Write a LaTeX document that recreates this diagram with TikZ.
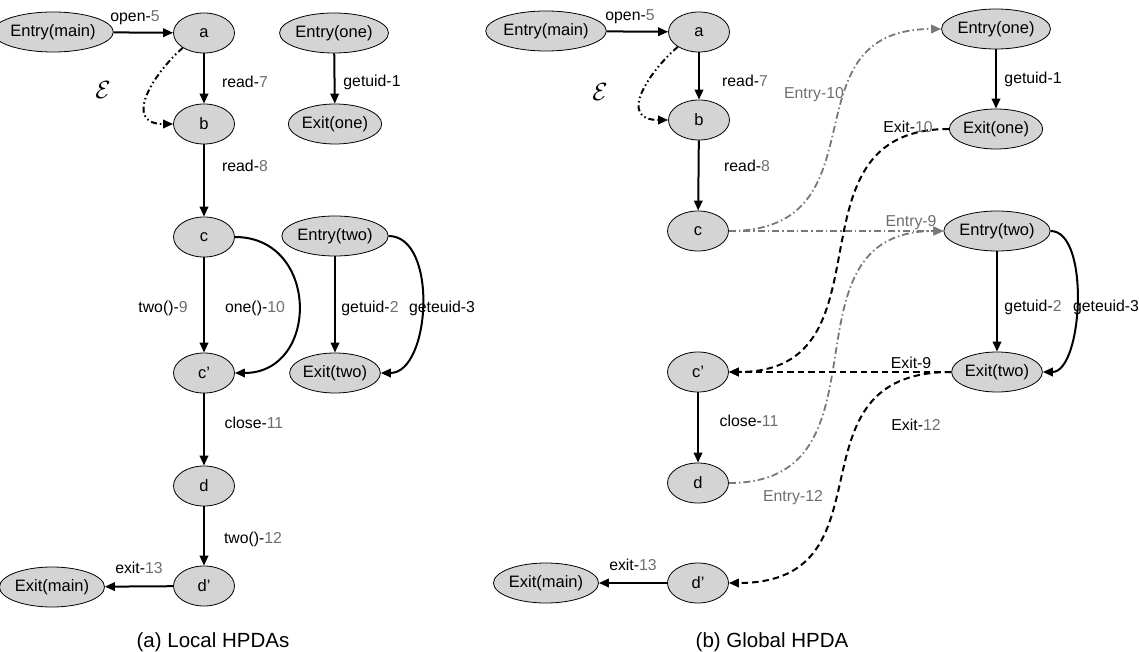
\documentclass[tikz,border=0pt]{standalone}
\usepackage{fontspec}
\setmainfont{Liberation Sans}
\usetikzlibrary{arrows.meta,shapes.geometric}
\definecolor{nodefill}{HTML}{D4D4D4}
\definecolor{numgray}{HTML}{6E6E6E}
\definecolor{linkgray}{HTML}{787878}
\newcommand{\nm}[1]{\textcolor{numgray}{#1}}
\begin{document}
\begin{tikzpicture}[x=1pt,y=-1pt,
  st/.style={ellipse, draw=black, line width=0.8pt, fill=nodefill,
    minimum width=61pt, minimum height=40pt, inner sep=0pt,
    font=\fontsize{16.5}{19}\selectfont},
  wide/.style={st, minimum width=82pt},
  lbl/.style={font=\fontsize{15.8}{18}\selectfont, inner sep=0pt, text=black},
  glbl/.style={lbl, text=numgray},
  captext/.style={font=\fontsize{20.5}{23}\selectfont, inner sep=0pt},
  epsl/.style={font=\fontsize{23}{26}\selectfont, inner sep=0pt},
  tip/.style={-{Triangle[length=10pt,width=8.5pt]}},
  flow/.style={tip, line width=2pt},
  ret/.style={tip, line width=2pt, dash pattern=on 6.5pt off 4pt},
  call/.style={tip, line width=1.8pt, draw=linkgray, dash pattern=on 7pt off 3pt on 1.5pt off 3pt},
  epsedge/.style={tip, line width=2pt, dash pattern=on 6pt off 3pt on 1.5pt off 3pt on 1.5pt off 3pt}]
\useasboundingbox (0,0) rectangle (1139,652);

% ---------- (a) local HPDAs ----------
\node[wide, minimum width=86pt] (em) at (53,32) {Entry(main)};
\node[st] (a) at (204,33) {a};
\node[st] (b) at (204,124) {b};
\node[st] (c) at (204,237) {c};
\node[st] (cp) at (204,373) {c’};
\node[st] (d) at (204,486) {d};
\node[st] (dp) at (204,586) {d’};
\node[wide, minimum width=86pt] (xm) at (52,587) {Exit(main)};
\node[wide] (e1) at (334,33) {Entry(one)};
\node[wide] (x1) at (335,124) {Exit(one)};
\node[wide] (e2) at (335,236) {Entry(two)};
\node[wide] (x2) at (335,373) {Exit(two)};

\draw[flow] (em) -- (a);
\draw[flow] (a) -- (b);
\draw[flow] (b) -- (c);
\draw[flow] (c) -- (cp);
\draw[flow] (cp) -- (d);
\draw[flow] (d) -- (dp);
\draw[flow] (dp) -- (xm);
\draw[flow] (e1) -- (x1);
\draw[flow] (e2) -- (x2);
\draw[flow] (c.east) .. controls +(85,0) and +(85,0) .. (cp.east);
\draw[flow] (e2.east) .. controls +(50,0) and +(50,0) .. (x2.east);
\draw[epsedge] (a.215) .. controls +(-28,24) and +(-52,0) .. (b.west);

\node[lbl] (la1) at (135,18) {open-\nm{5}};
\node[epsl] (la2) at (103,90) {$\mathcal{E}$};
\node[lbl] (la3) at (245,82) {read-\nm{7}};
\node[lbl] (la4) at (372,82) {getuid-1};
\node[lbl] (la5) at (245,166) {read-\nm{8}};
\node[lbl] (la6) at (163,308) {two()-\nm{9}};
\node[lbl] (la7) at (255,308) {one()-\nm{10}};
\node[lbl] (la8) at (370,308) {getuid-\nm{2}};
\node[lbl] (la9) at (442,308) {geteuid-3};
\node[lbl] (la10) at (254,423) {close-\nm{11}};
\node[lbl] (la11) at (253,539) {two()-\nm{12}};
\node[lbl] (la12) at (139,568) {exit-\nm{13}};
\node[captext] (capa) at (213,642) {(a) Local HPDAs};

% ---------- (b) global HPDA ----------
\node[wide, minimum width=86pt] (gem) at (546,31) {Entry(main)};
\node[st] (ga) at (699,32) {a};
\node[st] (gb) at (699,120) {b};
\node[st] (gc) at (698,231) {c};
\node[st] (gcp) at (698,372) {c’};
\node[st] (gd) at (698,483) {d};
\node[st] (gdp) at (698,583) {d’};
\node[wide, minimum width=86pt] (gxm) at (546,583) {Exit(main)};
\node[wide] (ge1) at (996,29) {Entry(one)};
\node[wide] (gx1) at (996,129) {Exit(one)};
\node[wide] (ge2) at (997,231) {Entry(two)};
\node[wide] (gx2) at (997,372) {Exit(two)};

\draw[flow] (gem) -- (ga);
\draw[flow] (ga) -- (gb);
\draw[flow] (gb) -- (gc);
\draw[flow] (gcp) -- (gd);
\draw[flow] (gdp) -- (gxm);
\draw[flow] (ge1) -- (gx1);
\draw[flow] (ge2) -- (gx2);
\draw[flow] (ge2.east) .. controls +(40,0) and +(40,0) .. (gx2.east);
\draw[epsedge] (ga.215) .. controls +(-28,24) and +(-52,0) .. (gb.west);

% calls into the procedures
\draw[call] (gc.east) .. controls +(160,0) and +(-160,0) .. (ge1.west);
\draw[call] (gc.east) -- (ge2.west);
\draw[call] (gd.east) .. controls +(170,0) and +(-170,0) .. (ge2.west);
% returns from the procedures
\draw[ret] (gx1.west) .. controls +(-170,0) and +(170,0) .. (gcp.east);
\draw[ret] (gx2.west) -- (gcp.east);
\draw[ret] (gx2.west) .. controls +(-170,0) and +(170,0) .. (gdp.east);

\node[lbl] (lb1) at (630,17) {open-\nm{5}};
\node[epsl] (lb2) at (600,92) {$\mathcal{E}$};
\node[lbl] (lb3) at (745,81) {read-\nm{7}};
\node[glbl] (lb4) at (814,95) {Entry-10};
\node[lbl] (lb5) at (1033,79) {getuid-1};
\node[lbl] (lb6) at (747,166) {read-\nm{8}};
\node[lbl] (lb7) at (908,127) {Exit-\nm{10}};
\node[glbl] (lb8) at (911,223) {Entry-9};
\node[lbl] (lb9) at (1033,307) {getuid-\nm{2}};
\node[lbl] (lb10) at (1106,307) {geteuid-3};
\node[lbl] (lb11) at (911,363) {Exit-9};
\node[lbl] (lb12) at (749,421) {close-\nm{11}};
\node[lbl] (lb13) at (916,425) {Exit-\nm{12}};
\node[glbl] (lb14) at (793,498) {Entry-12};
\node[lbl] (lb15) at (633,565) {exit-\nm{13}};
\node[captext] (capb) at (772,642) {(b) Global HPDA};
\end{tikzpicture}
\end{document}
